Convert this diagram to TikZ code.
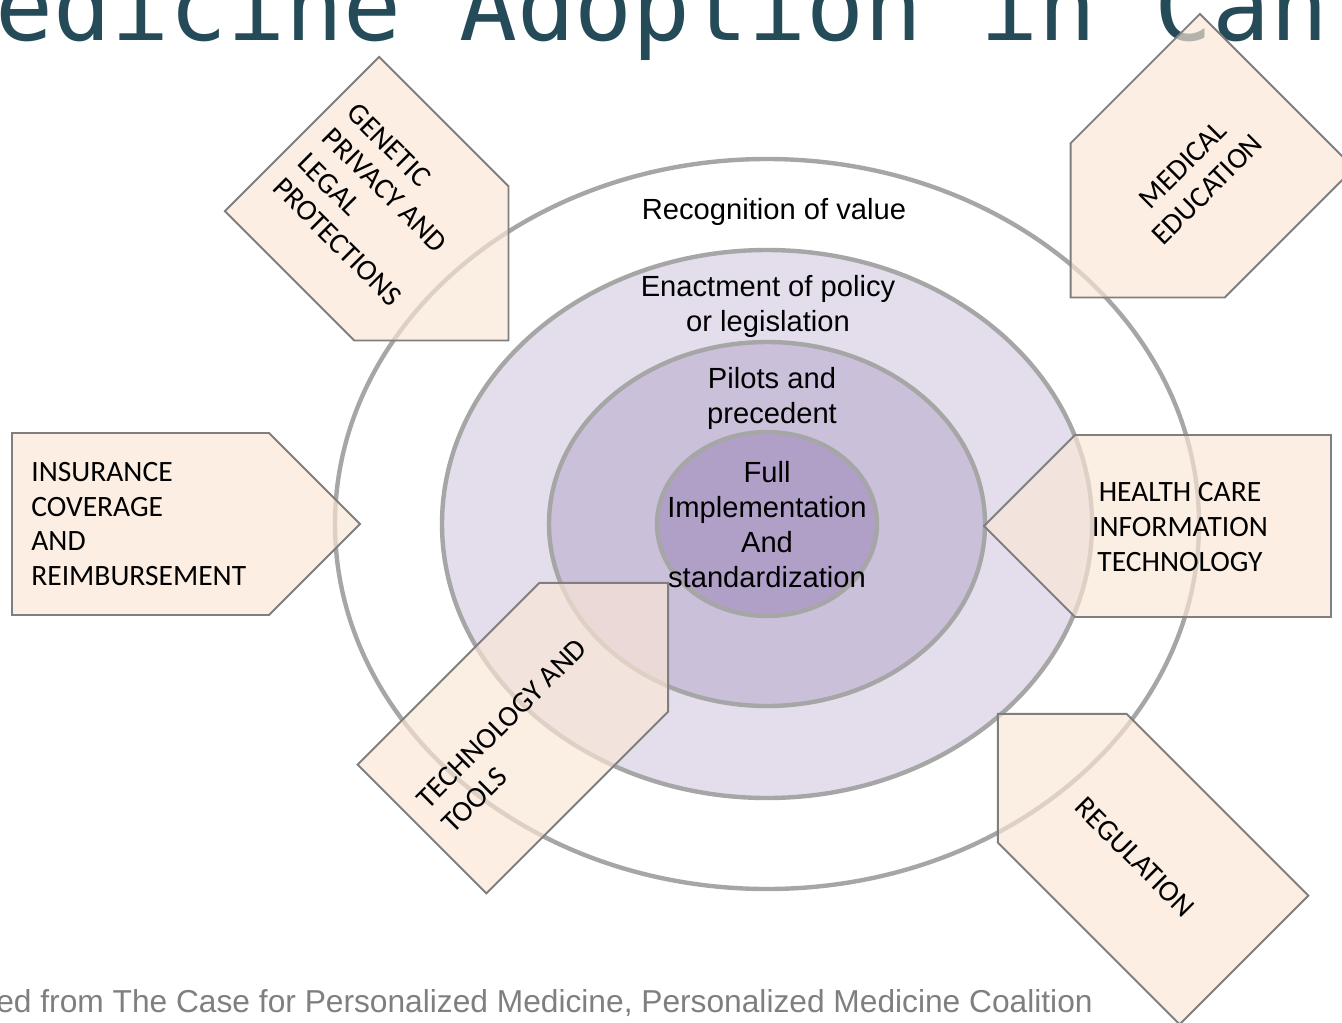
\documentclass[tikz,border=0pt]{standalone}
\usepackage{fontspec}
\setmainfont{Liberation Sans}
\newfontfamily\platefont{Carlito}
\newfontfamily\titlefont{DejaVu Sans Mono}
\definecolor{ringline}{HTML}{A6A6A6}
\definecolor{ringB}{HTML}{E4DEEC}
\definecolor{ringC}{HTML}{CBC0DA}
\definecolor{ringD}{HTML}{B0A0C8}
\definecolor{platefill}{RGB}{250,230,213}
\definecolor{plateline}{HTML}{7F7F7F}
\definecolor{titleteal}{HTML}{244B57}
\definecolor{srcgray}{HTML}{7F7F7F}

\begin{document}
\begin{tikzpicture}[x=0.02cm,y=-0.02cm,
	ring/.style={draw=ringline,line width=2.5pt},
	plate/.style={draw=plateline,line width=1.1pt,fill=platefill,fill opacity=.67},
	ringtext/.style={align=center,inner sep=0pt,font=\fontsize{16.6}{19.9}\selectfont},
	platetext/.style={inner sep=0pt,font=\platefont\fontsize{16.8}{19.9}\selectfont}]
	\useasboundingbox (0,0) rectangle (1342,1022);
	\clip (0,0) rectangle (1342,1022);
	%title cut by the page, source line at the bottom
	\node[anchor=base west,inner sep=0pt,text=titleteal,font=\titlefont\fontsize{54.8}{60}\selectfont] (title) at (-5,40) {edicine Adoption in Can};
	\node[anchor=base west,inner sep=0pt,text=srcgray,font=\fontsize{18.05}{20}\selectfont] (source) at (-4,1012) {ed from The Case for Personalized Medicine, Personalized Medicine Coalition};
	%% nested rings drawn with a loop
	\foreach \rx/\ry/\col in {432/365/white,325/274/ringB,218/182/ringC,110/92/ringD}{
		\draw[ring,fill=\col] (767,524) ellipse [x radius=\rx,y radius=\ry];
		}
	\node[ringtext] (value) at (774,212) {Recognition of value};
	\node[ringtext] (policy) at (768,306) {Enactment of policy\\or legislation};
	\node[ringtext] (pilots) at (772,398) {Pilots and\\precedent};
	\node[ringtext] (full) at (767,525) {Full\\Implementation\\And\\standardization};
	%% arrow plates pointing at the rings: back side, angle, height, body length
	\foreach \px/\py/\ang/\h/\l in {12/524/0/182/257,1331/526/180/182/256,302/134/-45/218/183,1277/91/-135/218/183,422/829/45/182/257,1244/960/135/182/257}{
		\draw[plate,shift={(\px,\py)},rotate=\ang] (0,-\h/2) -- (\l,-\h/2) -- (\l+\h/2,0) -- (\l,\h/2) -- (0,\h/2) -- cycle;
		}
	\node[platetext,align=left,anchor=west] (insurance) at (31,524) {INSURANCE\\COVERAGE\\AND\\REIMBURSEMENT};
	\node[platetext,align=center] (hcit) at (1180,527) {HEALTH CARE\\INFORMATION\\TECHNOLOGY};
	\node[platetext,align=left,anchor=west,rotate=-45] (genetic) at (315,145) {GENETIC\\PRIVACY AND\\LEGAL\\PROTECTIONS};
	\node[platetext,align=center,rotate=45] (education) at (1195,177) {MEDICAL\\EDUCATION};
	\node[platetext,align=left,anchor=west,rotate=45] (tools) at (434,816) {TECHNOLOGY AND\\TOOLS};
	\node[platetext,rotate=-45] (regulation) at (1135,857) {REGULATION};
\end{tikzpicture}
\end{document}
